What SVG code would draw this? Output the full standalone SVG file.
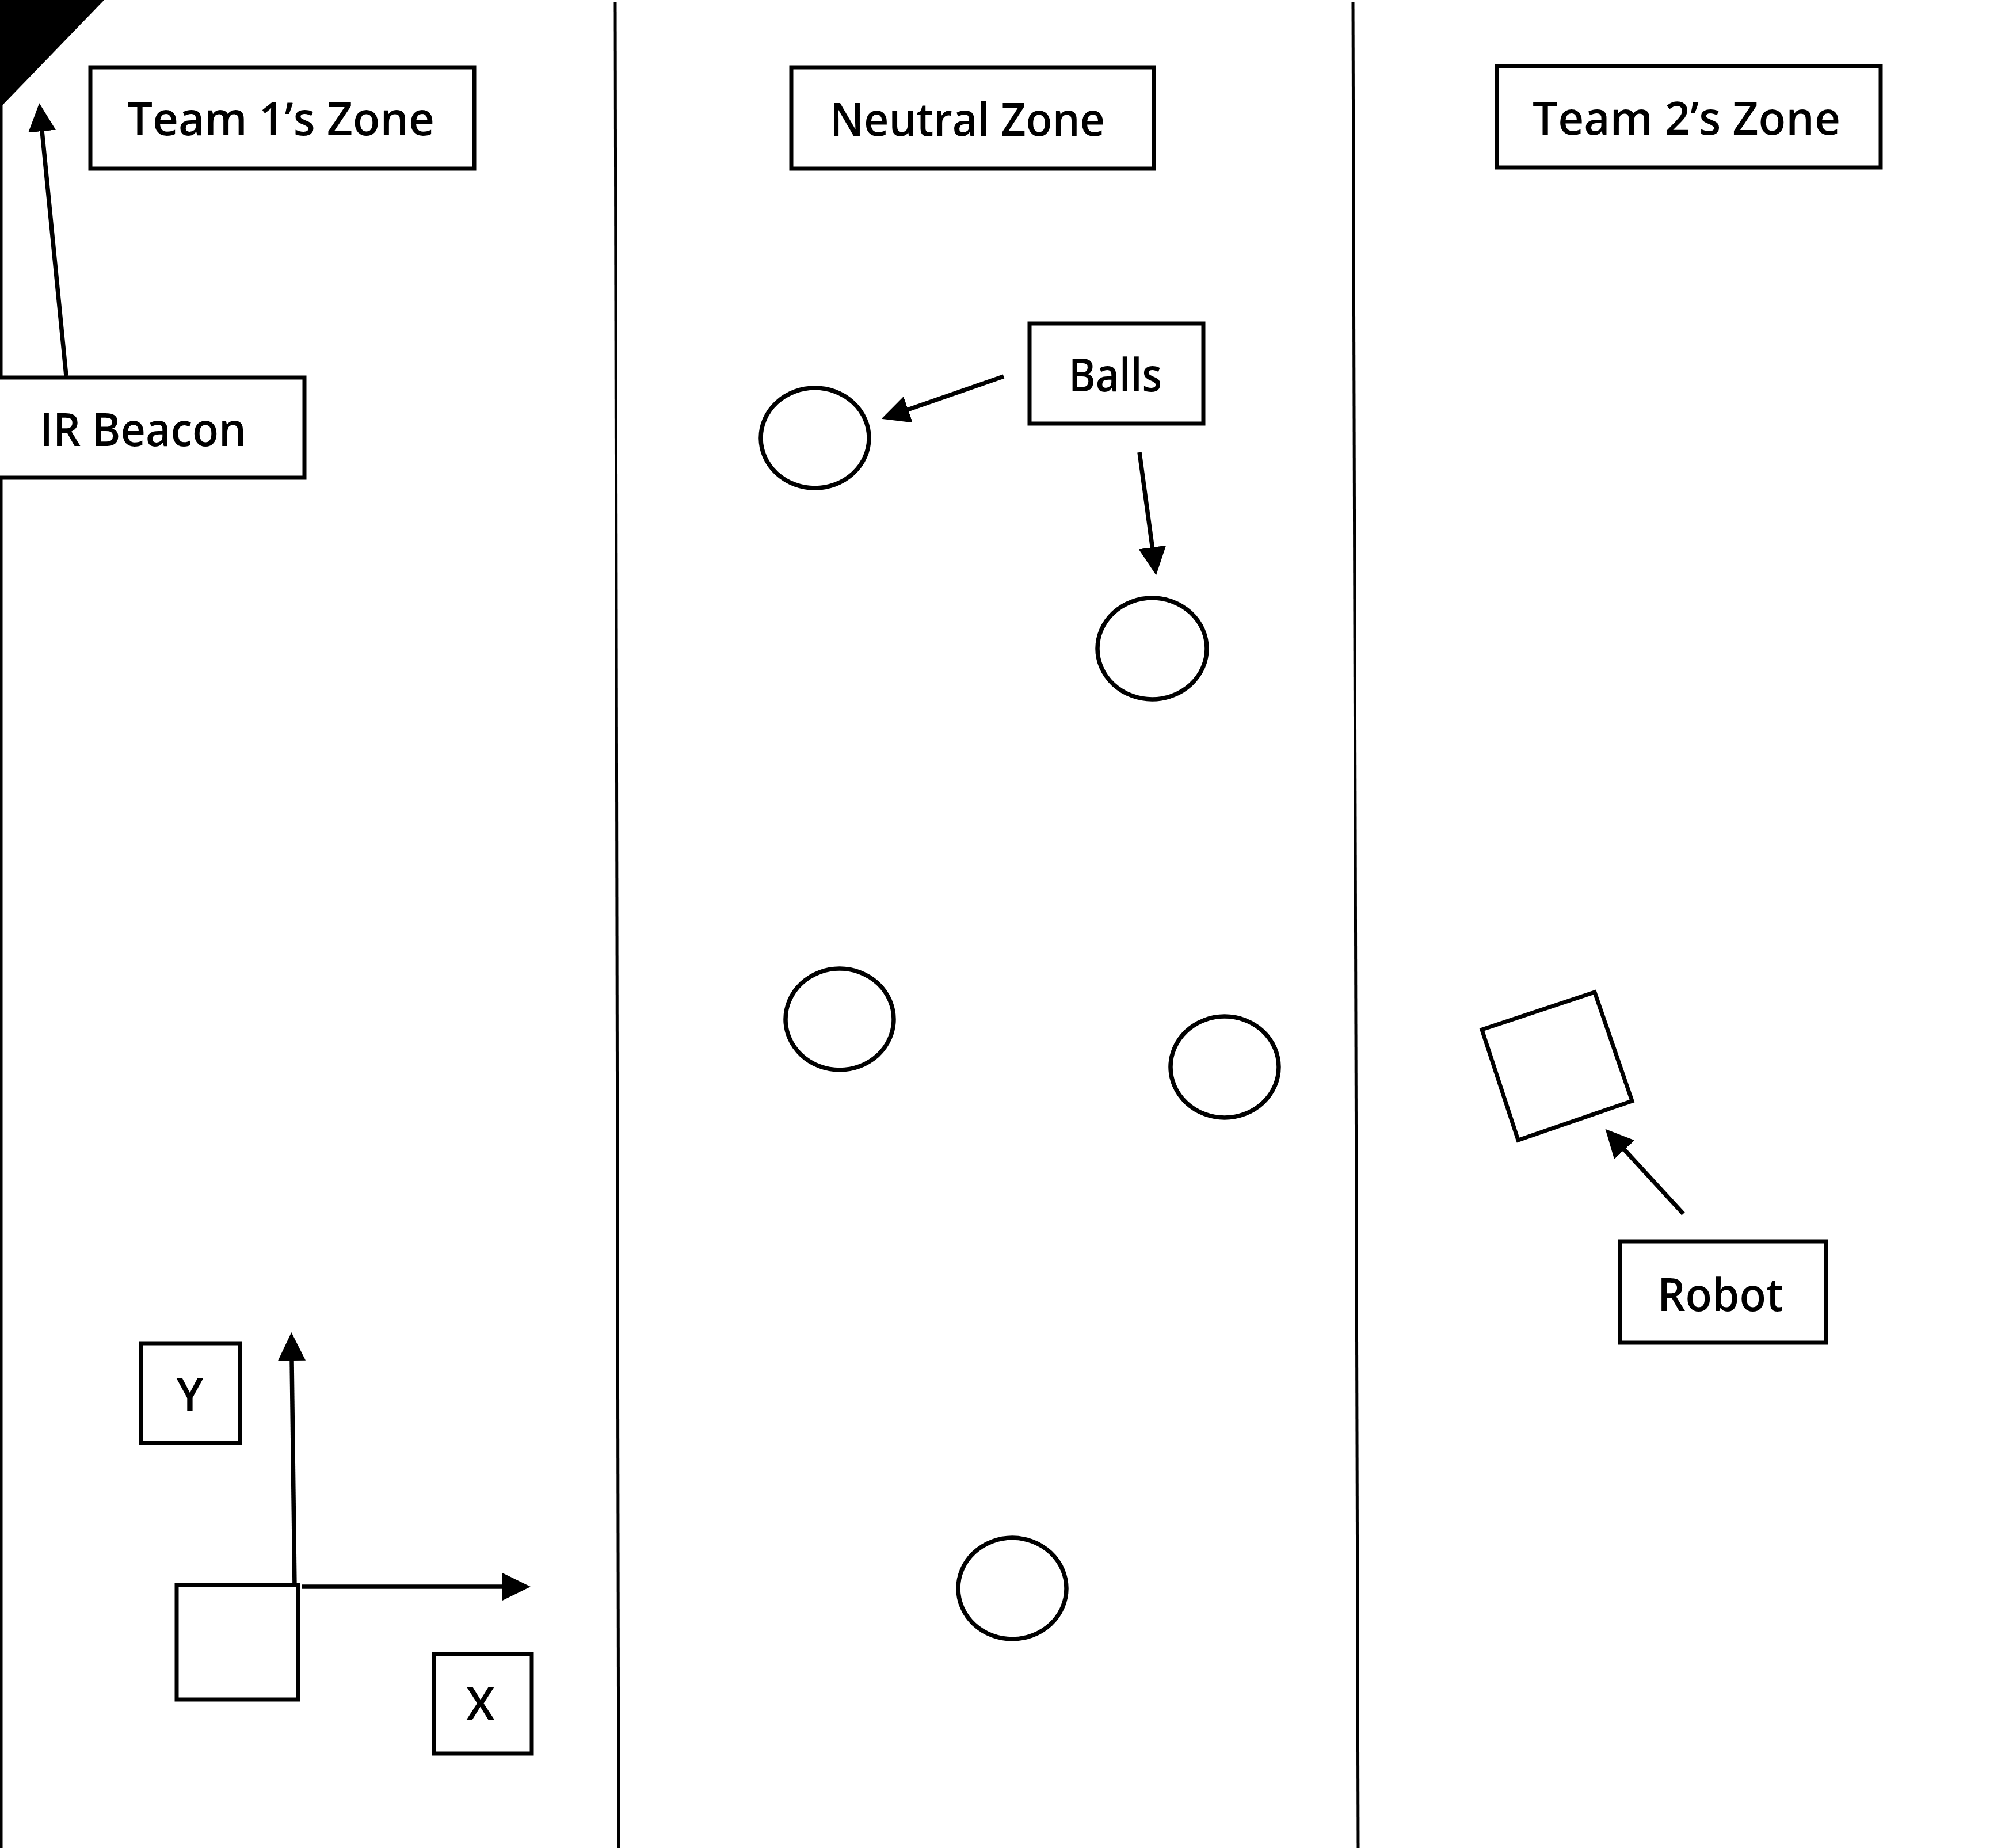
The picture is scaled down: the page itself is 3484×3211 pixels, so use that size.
<svg xmlns="http://www.w3.org/2000/svg" width="3484" height="3211" viewBox="0 0 3484 3211">
<style>
.box{fill:#fff;stroke:#000;stroke-width:7}
.ball{fill:#fff;stroke:#000;stroke-width:7.5}
.div{stroke:#000;stroke-width:5;fill:none}
.arr{stroke:#000;stroke-width:7.5;fill:none;marker-end:url(#head)}
text{font-family:"Open Sans","Noto Sans","DejaVu Sans",sans-serif;font-size:80px;font-weight:600;fill:#000}
</style>
<defs>
<marker id="head" viewBox="0 0 49 48" refX="1" refY="24" markerWidth="49" markerHeight="48" markerUnits="userSpaceOnUse" orient="auto">
<path d="M0,0 L49,24 L0,48 z" fill="#000"/>
</marker>
</defs>
<rect width="3484" height="3211" fill="#fff"/>
<g id="field">
<polygon points="0,0 181,0 3,184 0,184" fill="#000"/>
<line class="div" x1="2" y1="0" x2="2" y2="3211"/>
<line class="div" x1="1069" y1="4" x2="1075" y2="3211"/>
<line class="div" x1="2351" y1="4" x2="2360" y2="3211"/>
</g>
<g id="team1-zone">
<rect class="box" x="157" y="117" width="667" height="176"/>
<text x="221" y="235" textLength="534" lengthAdjust="spacingAndGlyphs">Team 1’s Zone</text>
</g>
<g id="neutral-zone">
<rect class="box" x="1375" y="117" width="630" height="176"/>
<text x="1442" y="236" textLength="478" lengthAdjust="spacingAndGlyphs">Neutral Zone</text>
</g>
<g id="team2-zone">
<rect class="box" x="2601" y="115" width="667" height="176"/>
<text x="2663" y="234" textLength="535" lengthAdjust="spacingAndGlyphs">Team 2’s Zone</text>
</g>
<g id="ir-beacon">
<rect class="box" x="-5" y="656" width="534" height="174"/>
<text x="69" y="775" textLength="359" lengthAdjust="spacingAndGlyphs">IR Beacon</text>
</g>
<g id="balls-label">
<rect class="box" x="1789" y="562" width="302" height="174"/>
<text x="1857" y="680" textLength="162" lengthAdjust="spacingAndGlyphs">Balls</text>
</g>
<g id="ball-1"><ellipse class="ball" cx="1416" cy="761" rx="94" ry="87"/></g>
<g id="ball-2"><ellipse class="ball" cx="2002" cy="1127" rx="95" ry="88"/></g>
<g id="ball-3"><ellipse class="ball" cx="1459" cy="1771" rx="94" ry="88"/></g>
<g id="ball-4"><ellipse class="ball" cx="2128" cy="1854" rx="94" ry="88"/></g>
<g id="ball-5"><ellipse class="ball" cx="1759" cy="2760" rx="94" ry="88"/></g>
<g id="robot">
<polygon class="box" points="2575,1789 2771,1724 2836,1913 2638,1981"/>
</g>
<g id="robot-label">
<rect class="box" x="2815" y="2157" width="358" height="176"/>
<text x="2880" y="2278" textLength="219" lengthAdjust="spacingAndGlyphs">Robot</text>
</g>
<g id="origin-square">
<rect class="box" x="307" y="2754" width="211" height="199"/>
</g>
<g id="y-label">
<rect class="box" x="245" y="2334" width="172" height="173"/>
<text x="330" y="2451" text-anchor="middle" font-weight="400">Y</text>
</g>
<g id="x-label">
<rect class="box" x="754" y="2874" width="170" height="173"/>
<text x="835" y="2989" text-anchor="middle" font-weight="400">X</text>
</g>
<g id="connectors">
<line class="arr" x1="115" y1="653" x2="73" y2="227"/>
<line class="arr" x1="1744" y1="654" x2="1577" y2="712"/>
<line class="arr" x1="1980" y1="786" x2="2002.5" y2="952"/>
<line class="arr" x1="2925" y1="2109" x2="2822" y2="1997"/>
<line class="arr" x1="512" y1="2757" x2="507" y2="2363"/>
<line class="arr" x1="525" y1="2757" x2="874" y2="2757"/>
</g>
</svg>
